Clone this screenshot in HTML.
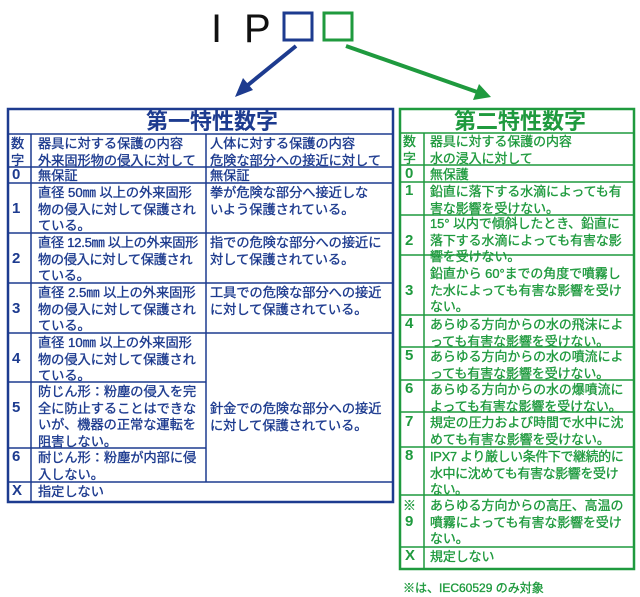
<!DOCTYPE html>
<html><head><meta charset="utf-8"><style>
*{margin:0;padding:0;box-sizing:border-box}
body{width:640px;height:597px;background:#fff;position:relative;overflow:hidden;font-family:"Liberation Sans","Noto Sans CJK JP",sans-serif}
.t{position:absolute;font-size:13.2px;line-height:16.6px;white-space:nowrap;margin-top:2px;-webkit-text-stroke:0.35px}
.b{color:#1d3b8f}
.g{color:#1f9a3e;font-size:12.9px}
.n{font-size:15px;font-weight:bold;-webkit-text-stroke:0}
.h{font-size:22px;line-height:26px;font-weight:bold;-webkit-text-stroke:0;margin-top:0}
</style></head><body>
<svg width="640" height="597" style="position:absolute;left:0;top:0">
<text x="211" y="42" font-family="Liberation Sans,sans-serif" font-size="40" fill="#111">I</text>
<text x="244" y="42" font-family="Liberation Sans,sans-serif" font-size="40" fill="#111">P</text>
<rect x="284" y="13" width="28" height="27" fill="none" stroke="#1d3b8f" stroke-width="3"/>
<rect x="324" y="13" width="28" height="27" fill="none" stroke="#1f9a3e" stroke-width="3"/>
<line x1="296" y1="46" x2="243" y2="89" stroke="#1d3b8f" stroke-width="4"/>
<polygon points="235,97 243,78 253,90" fill="#1d3b8f"/>
<line x1="346" y1="46" x2="480" y2="93" stroke="#1f9a3e" stroke-width="4"/>
<polygon points="491,97 473,100 479,84" fill="#1f9a3e"/>
<g stroke="#1d3b8f" fill="none">
<rect x="8" y="109" width="385" height="393" stroke-width="2.5"/>
<g stroke-width="1.5">
<line x1="8" y1="134" x2="393" y2="134"/>
<line x1="8" y1="167" x2="393" y2="167"/>
<line x1="8" y1="183" x2="393" y2="183"/>
<line x1="8" y1="233" x2="393" y2="233"/>
<line x1="8" y1="283" x2="393" y2="283"/>
<line x1="8" y1="333" x2="393" y2="333"/>
<line x1="8" y1="382" x2="206" y2="382"/>
<line x1="8" y1="448" x2="206" y2="448"/>
<line x1="8" y1="482" x2="393" y2="482"/>
<line x1="31" y1="134" x2="31" y2="502"/>
<line x1="206" y1="134" x2="206" y2="482"/>
</g></g>
<g stroke="#1f9a3e" fill="none">
<rect x="400" y="109" width="234" height="460" stroke-width="2.5"/>
<g stroke-width="1.5">
<line x1="400" y1="133" x2="634" y2="133"/>
<line x1="400" y1="165" x2="634" y2="165"/>
<line x1="400" y1="182" x2="634" y2="182"/>
<line x1="400" y1="215" x2="634" y2="215"/>
<line x1="400" y1="255" x2="634" y2="255"/>
<line x1="400" y1="315" x2="634" y2="315"/>
<line x1="400" y1="347" x2="634" y2="347"/>
<line x1="400" y1="380" x2="634" y2="380"/>
<line x1="400" y1="412" x2="634" y2="412"/>
<line x1="400" y1="447" x2="634" y2="447"/>
<line x1="400" y1="495" x2="634" y2="495"/>
<line x1="400" y1="547" x2="634" y2="547"/>
<line x1="424" y1="133" x2="424" y2="569"/>
</g></g>
</svg>

<div class="t b h" style="left:146px;top:109px">第一特性数字</div>
<div class="t b" style="left:11px;top:134px">数<br>字</div>
<div class="t b" style="left:38px;top:134px">器具に対する保護の内容<br>外来固形物の侵入に対して</div>
<div class="t b" style="left:210px;top:134px">人体に対する保護の内容<br>危険な部分への接近に対して</div>
<div class="t b n" style="left:12px;top:165px">0</div>
<div class="t b" style="left:38px;top:166px">無保証</div>
<div class="t b" style="left:210px;top:166px">無保証</div>
<div class="t b n" style="left:12px;top:199px">1</div>
<div class="t b" style="left:38px;top:183px">直径 50㎜ 以上の外来固形<br>物の侵入に対して保護され<br>ている。</div>
<div class="t b" style="left:210px;top:183px">拳が危険な部分へ接近しな<br>いよう保護されている。</div>
<div class="t b n" style="left:12px;top:249px">2</div>
<div class="t b" style="left:38px;top:233px;letter-spacing:-0.3px">直径 12.5㎜ 以上の外来固形<br>物の侵入に対して保護され<br>ている。</div>
<div class="t b" style="left:210px;top:233px">指での危険な部分への接近に<br>対して保護されている。</div>
<div class="t b n" style="left:12px;top:299px">3</div>
<div class="t b" style="left:38px;top:283px">直径 2.5㎜ 以上の外来固形<br>物の侵入に対して保護され<br>ている。</div>
<div class="t b" style="left:210px;top:283px">工具での危険な部分への接近<br>に対して保護されている。</div>
<div class="t b n" style="left:12px;top:349px">4</div>
<div class="t b" style="left:38px;top:333px">直径 10㎜ 以上の外来固形<br>物の侵入に対して保護され<br>ている。</div>
<div class="t b n" style="left:12px;top:398px">5</div>
<div class="t b" style="left:38px;top:382px">防じん形：粉塵の侵入を完<br>全に防止することはできな<br>いが、機器の正常な運転を<br>阻害しない。</div>
<div class="t b" style="left:210px;top:399px">針金での危険な部分への接近<br>に対して保護されている。</div>
<div class="t b n" style="left:12px;top:447px">6</div>
<div class="t b" style="left:38px;top:448px">耐じん形：粉塵が内部に侵<br>入しない。</div>
<div class="t b n" style="left:12px;top:481px">X</div>
<div class="t b" style="left:38px;top:482px">指定しない</div>

<div class="t g h" style="left:454px;top:109px">第二特性数字</div>
<div class="t g" style="left:403px;top:132px">数<br>字</div>
<div class="t g" style="left:430px;top:132px">器具に対する保護の内容<br>水の浸入に対して</div>
<div class="t g n" style="left:405px;top:164px">0</div>
<div class="t g" style="left:430px;top:165px">無保護</div>
<div class="t g n" style="left:405px;top:181px">1</div>
<div class="t g" style="left:430px;top:182px">鉛直に落下する水滴によっても有<br>害な影響を受けない。</div>
<div class="t g n" style="left:405px;top:231px">2</div>
<div class="t g" style="left:430px;top:214px">15° 以内で傾斜したとき、鉛直に<br>落下する水滴によっても有害な影<br>響を受けない。</div>
<div class="t g n" style="left:405px;top:281px">3</div>
<div class="t g" style="left:430px;top:264px">鉛直から 60°までの角度で噴霧し<br>た水によっても有害な影響を受け<br>ない。</div>
<div class="t g n" style="left:405px;top:314px">4</div>
<div class="t g" style="left:430px;top:315px">あらゆる方向からの水の飛沫によ<br>っても有害な影響を受けない。</div>
<div class="t g n" style="left:405px;top:346px">5</div>
<div class="t g" style="left:430px;top:347px">あらゆる方向からの水の噴流によ<br>っても有害な影響を受けない。</div>
<div class="t g n" style="left:405px;top:379px">6</div>
<div class="t g" style="left:430px;top:380px">あらゆる方向からの水の爆噴流に<br>よっても有害な影響を受けない。</div>
<div class="t g n" style="left:405px;top:412px">7</div>
<div class="t g" style="left:430px;top:413px">規定の圧力および時間で水中に沈<br>めても有害な影響を受けない。</div>
<div class="t g n" style="left:405px;top:446px">8</div>
<div class="t g" style="left:430px;top:447px;letter-spacing:-0.3px">IPX7 より厳しい条件下で継続的に<br>水中に沈めても有害な影響を受け<br>ない。</div>
<div class="t g" style="left:403px;top:496px">※</div>
<div class="t g n" style="left:405px;top:512px">9</div>
<div class="t g" style="left:430px;top:496px">あらゆる方向からの高圧、高温の<br>噴霧によっても有害な影響を受け<br>ない。</div>
<div class="t g n" style="left:405px;top:546px">X</div>
<div class="t g" style="left:430px;top:547px">規定しない</div>
<div class="t g" style="left:403px;top:578px;font-size:12px">※は、IEC60529 のみ対象</div>
</body></html>
